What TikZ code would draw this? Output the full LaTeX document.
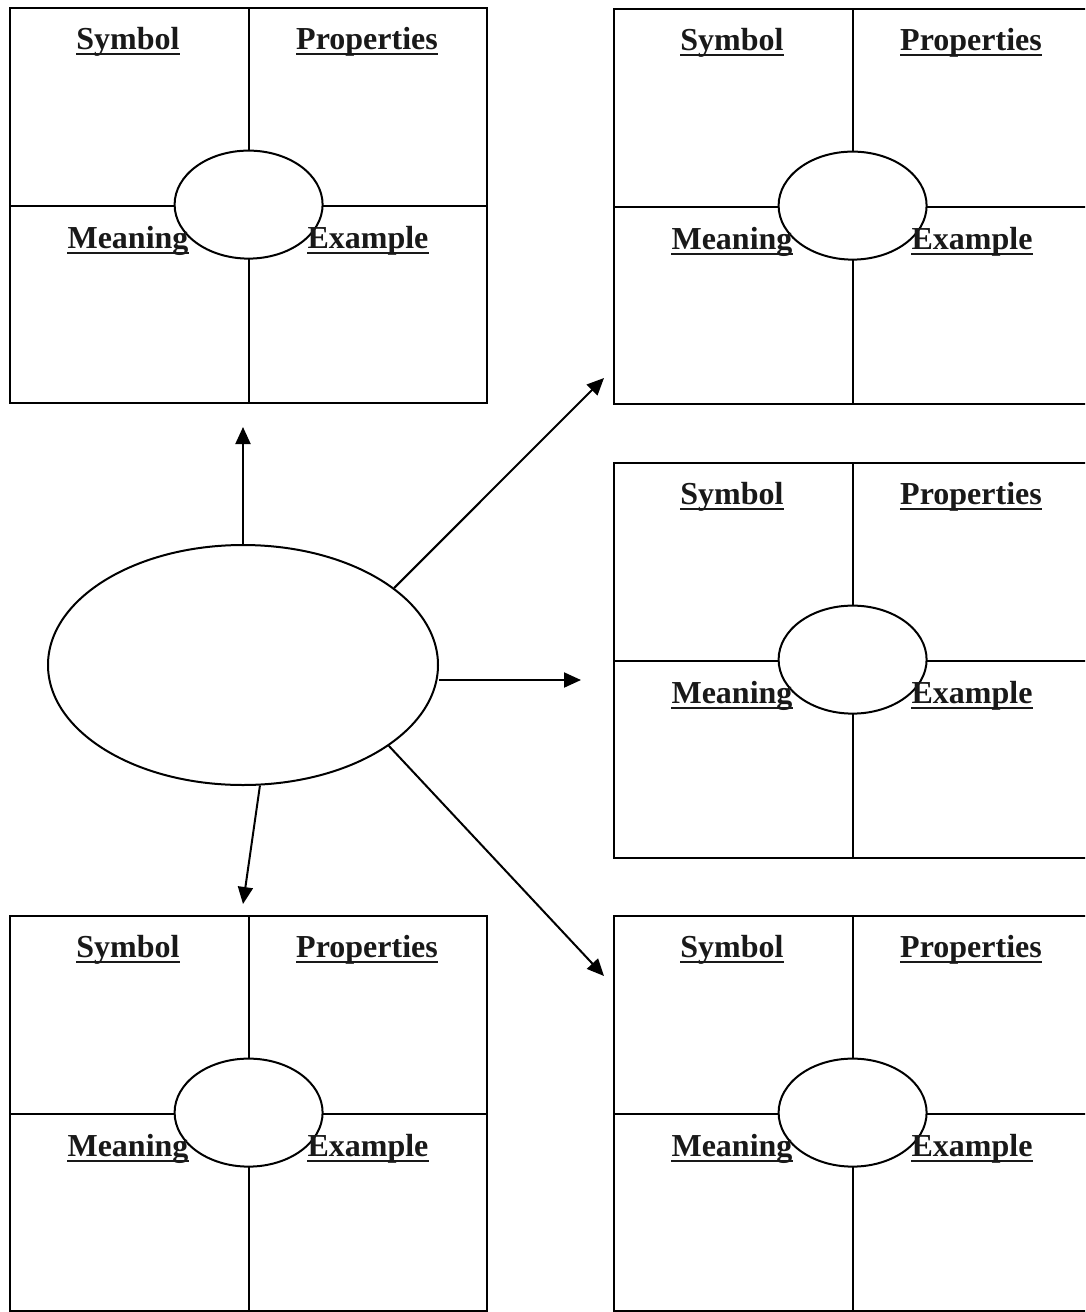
\documentclass[tikz,border=0pt]{standalone}
\usepackage{fontspec}
\setmainfont{Liberation Serif}
\usetikzlibrary{shapes.geometric,arrows.meta}
\tikzset{
  frame/.style={draw, line width=2.2pt, minimum width=477pt, minimum height=395pt, anchor=north west, inner sep=0pt},
  divider/.style={line width=2pt},
  oval/.style={ellipse, draw, fill=white, line width=2pt, minimum width=148pt, minimum height=108pt, inner sep=0pt},
  bigoval/.style={ellipse, draw, line width=2pt, minimum width=390pt, minimum height=240pt, inner sep=0pt},
  lab/.style={font=\fontsize{32}{38}\selectfont\bfseries, inner sep=0pt, anchor=base, text=black!90},
  ul/.style={line width=2.6pt, black!90},
  arr/.style={line width=2pt, -{Triangle[length=17pt,width=15pt]}},
}
\newcommand\qbox[3]{%
  \node[frame] (#1) at (#2,#3) {};
  \draw[divider] (#1.north) -- (#1.south);
  \draw[divider] (#1.west) -- (#1.east);
  \node[oval] (#1-o) at ([yshift=1pt]#1.center) {};
  \node[lab] (#1-s) at ([shift={(119,42)}]#1.north west) {Symbol};
  \node[lab] (#1-p) at ([shift={(358,42)}]#1.north west) {Properties};
  \node[lab] (#1-m) at ([shift={(119,241)}]#1.north west) {Meaning};
  \node[lab] (#1-e) at ([shift={(359,241)}]#1.north west) {Example};
  \foreach \w in {s,p,m,e}{
    \draw[ul] ([yshift=-5pt]#1-\w.base west) -- ([yshift=-5pt]#1-\w.base east);
  }
}
\begin{document}
\begin{tikzpicture}[x=1pt,y=-1pt]
  \useasboundingbox (0,0) rectangle (1085,1312);
  \fill[white] (0,0) rectangle (1085,1312);
  \clip (0,0) rectangle (1085,1312);
  \qbox{tl}{9}{7}
  \qbox{tr}{613}{8}
  \qbox{mr}{613}{462}
  \qbox{bl}{9}{915}
  \qbox{br}{613}{915}
  \node[bigoval] (c) at (243,665) {};
  \coordinate (t1) at (243,427);
  \coordinate (t2) at (604,378);
  \coordinate (t3) at (581,680);
  \coordinate (t4) at (604,976);
  \coordinate (t5) at (243,904);
  \draw[arr] (c.north) -- (t1);
  \draw[arr] (c.27) -- (t2);
  \draw[arr] (t3 -| c.east) -- (t3);
  \draw[arr] (c.-29.4) -- (t4);
  \draw[arr] (c.-82.7) -- (t5);
\end{tikzpicture}
\end{document}
